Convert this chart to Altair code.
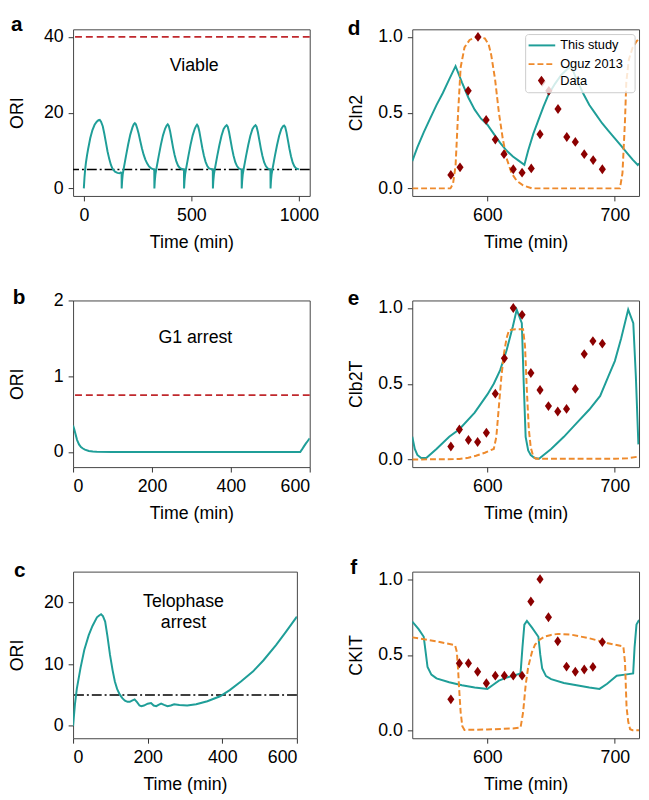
import altair as alt
import pandas as pd

FONT = "Liberation Sans"
TEAL = "#1f9e98"
ORANGE = "#ee8a2c"
RED = "#c0282d"
DARKRED = "#8b0000"
DIAMOND = "M0,-1L0.72,0L0,1L-0.72,0Z"

# ---------------- panel a (Viable) ----------------
A_T = [0, 3, 6, 10, 15, 20, 30, 40, 50, 60, 68, 74, 80, 88, 95, 103, 110, 118, 126, 134, 145, 156, 166, 172, 175.5,
       176, 178, 181, 186, 196, 206, 216, 226, 232, 237, 242, 248, 255, 262, 270, 278, 286, 294, 303, 313, 322, 327.5,
       328, 330, 333, 338, 348, 358, 368, 378, 385, 390, 395, 401, 408, 415, 422, 430, 438, 446, 456, 465.5,
       466, 468, 471, 476, 486, 496, 506, 516, 522, 526, 531, 537, 544, 551, 558, 566, 574, 582, 592, 599.5,
       600, 602, 605, 610, 620, 630, 640, 650, 658, 664, 669, 675, 682, 689, 696, 704, 712, 720, 728, 733.5,
       734, 736, 739, 744, 754, 764, 774, 784, 792, 798, 803, 809, 816, 823, 830, 838, 846, 854, 862, 867.5,
       868, 870, 873, 878, 888, 898, 908, 918, 926, 931, 936, 942, 949, 956, 963, 971, 979, 987, 1000]
A_V = [0, 2.8, 4.9, 6.9, 8.8, 10.4, 13.3, 15.4, 16.8, 17.6, 18.0, 18.1, 17.6, 16.4, 14.5, 12.0, 9.8, 7.8, 6.2, 5.1, 4.4, 4.1, 4.0, 4.2, 4.0,
       0, 2.0, 3.8, 5.4, 8.6, 11.6, 14.2, 16.1, 16.9, 17.2, 16.9, 15.9, 14.4, 12.6, 10.6, 8.9, 7.6, 6.6, 5.8, 5.3, 5.1, 5.0,
       0, 2.0, 3.8, 5.4, 8.5, 11.5, 14.0, 15.8, 16.6, 16.9, 16.5, 15.1, 12.9, 10.7, 8.8, 7.1, 6.0, 5.4, 5.1, 5.0,
       0, 2.0, 3.8, 5.4, 8.5, 11.5, 14.0, 15.8, 16.5, 16.8, 16.4, 15.0, 12.8, 10.6, 8.7, 7.0, 5.9, 5.3, 5.1, 5.0,
       0, 2.0, 3.8, 5.4, 8.5, 11.4, 13.9, 15.7, 16.4, 16.7, 16.3, 14.9, 12.7, 10.5, 8.6, 6.9, 5.9, 5.3, 5.1, 5.0,
       0, 2.0, 3.8, 5.4, 8.5, 11.4, 13.9, 15.7, 16.4, 16.7, 16.3, 14.9, 12.7, 10.5, 8.6, 6.9, 5.9, 5.3, 5.1, 5.0,
       0, 2.0, 3.8, 5.4, 8.5, 11.4, 13.9, 15.7, 16.4, 16.6, 16.2, 14.8, 12.6, 10.4, 8.5, 6.8, 5.8, 5.3, 5.0]
A_UPPER = [40]
A_LOWER = [5]

# ---------------- panel b (G1 arrest) ----------------
B_T = [0, 3, 6, 10, 15, 20, 25, 30, 40, 50, 60, 100, 200, 300, 400, 500, 576, 580, 585, 590, 595, 600]
B_V = [0.35, 0.30, 0.24, 0.16, 0.10, 0.065, 0.045, 0.03, 0.012, 0.005, 0.002, 0, 0, 0, 0, 0, 0, 0.03, 0.07, 0.11, 0.145, 0.18]
B_UPPER = [0.75]

# ---------------- panel c (Telophase arrest) ----------------
C_T = [0, 5, 10, 20, 30, 42, 52, 64, 70, 75, 80, 86, 92, 99, 106, 112, 118, 125, 132, 139,
       146, 152, 158, 165, 172, 178, 183, 190, 200, 209, 216, 223, 229, 236, 244, 253, 262, 271, 285, 306,
       330, 360, 394, 420, 450, 482, 510, 544, 570, 600]
C_V = [0, 3.5, 6.0, 9.4, 12.3, 14.7, 16.2, 17.6, 17.9, 18.1, 17.8, 16.9, 14.6, 11.5, 9.0, 7.2, 6.0, 5.1, 4.5, 4.1,
       3.9, 3.9, 4.1, 4.3, 3.8, 3.3, 3.2, 3.3, 3.6, 3.7, 3.3, 3.2, 3.4, 3.6, 3.4, 3.2, 3.3, 3.5, 3.4, 3.3,
       3.5, 4.0, 4.8, 5.8, 7.2, 8.8, 10.6, 13.1, 15.2, 17.7]
C_LOWER = [5]

# ---------------- panel d (Cln2) ----------------
D_STUDY_T = [541, 545, 550, 555, 560, 565, 570, 575, 580, 585, 590, 595, 600, 605, 610, 615, 620, 625, 629,
             632, 636, 640, 644, 648, 653, 658, 663, 666, 670, 675, 680, 685, 690, 695, 700, 705, 710, 714, 718, 719]
D_STUDY_V = [0.18, 0.27, 0.37, 0.46, 0.55, 0.63, 0.72, 0.807, 0.70, 0.60, 0.52, 0.46, 0.42, 0.36, 0.30, 0.25, 0.21, 0.18, 0.155,
             0.25, 0.36, 0.45, 0.54, 0.62, 0.69, 0.75, 0.79, 0.80, 0.72, 0.63, 0.55, 0.49, 0.43, 0.38, 0.33, 0.28, 0.23, 0.19, 0.155, 0.165]
D_OGUZ_T = [541, 571, 573, 575, 577, 579, 582, 586, 592, 598, 601, 603, 606, 609, 612, 615, 619, 623, 628, 635,
            704, 706, 708, 709, 711, 714, 717, 719]
D_OGUZ_V = [0, 0, 0.03, 0.15, 0.50, 0.80, 0.93, 0.98, 1.0, 0.99, 0.95, 0.88, 0.72, 0.50, 0.33, 0.20, 0.10, 0.05, 0.02, 0,
            0, 0.1, 0.45, 0.70, 0.85, 0.93, 0.97, 0.99]
D_DATA_T = [571.3, 578.5, 584.9, 592.6, 599, 606.2, 613, 620.3, 627.2, 634.4, 641.3, 643, 648.2, 655.4, 662.3, 669, 676, 683, 690.2]
D_DATA_V = [0.089, 0.139, 0.644, 1.0, 0.452, 0.322, 0.226, 0.126, 0.104, 0.132, 0.357, 0.704, 0.644, 0.524, 0.339, 0.307, 0.226, 0.187, 0.126]

# ---------------- panel e (Clb2T) ----------------
E_STUDY_T = [541, 543, 545, 548, 552, 560, 570, 578, 590, 600, 605, 610, 615, 620, 623, 627, 628.5, 630, 632, 634,
             637, 640.5, 650, 660, 670, 680, 688.5, 695, 700, 705, 710.5, 714.5, 716.5, 718.5]
E_STUDY_V = [0.15, 0.07, 0.03, 0.01, 0.01, 0.07, 0.15, 0.20, 0.31, 0.43, 0.50, 0.59, 0.72, 0.88, 0.99, 0.90, 0.50, 0.15, 0.06, 0.03,
             0.01, 0.005, 0.07, 0.15, 0.24, 0.33, 0.42, 0.55, 0.65, 0.80, 0.99, 0.90, 0.55, 0.10]
E_OGUZ_T = [541, 578, 585, 591, 598, 605, 607, 609, 611, 613, 615, 617, 622, 628, 629.5, 631, 632.5, 634, 636, 638, 700, 710, 719]
E_OGUZ_V = [0.0, 0.003, 0.012, 0.025, 0.045, 0.07, 0.15, 0.35, 0.55, 0.70, 0.80, 0.855, 0.86, 0.86, 0.75, 0.45, 0.20, 0.08, 0.02, 0.005, 0.005, 0.008, 0.02]
DATA_T = [571.3, 578, 585.1, 592.3, 599.2, 606.2, 613.3, 620.3, 627.2, 634.1, 641.3, 647.9, 655.2, 662.1, 669, 676, 682.8, 690.2]
E_DATA_V = [0.086, 0.198, 0.129, 0.116, 0.177, 0.435, 0.668, 1.0, 0.955, 0.571, 0.459, 0.353, 0.317, 0.334, 0.466, 0.696, 0.782, 0.765]

# ---------------- panel f (CKIT) ----------------
F_STUDY_T = [541, 546, 550, 551.5, 553, 556, 560, 570, 580, 590, 600, 604, 609, 615, 621, 626, 627.5, 629, 631, 635,
             640, 641.5, 643, 646, 650, 660, 670, 680, 688, 694, 701.5, 708, 714.4, 715.5, 717, 719]
F_STUDY_V = [0.72, 0.67, 0.62, 0.52, 0.42, 0.37, 0.345, 0.32, 0.30, 0.285, 0.276, 0.30, 0.33, 0.35, 0.365, 0.378, 0.55, 0.70, 0.725, 0.68,
             0.62, 0.50, 0.41, 0.36, 0.34, 0.315, 0.30, 0.285, 0.276, 0.31, 0.363, 0.37, 0.378, 0.55, 0.70, 0.73]
F_OGUZ_T = [541, 560, 574.6, 576, 577, 578, 579, 580.3, 582, 600, 620, 626, 628, 630, 632, 635, 637.4, 641, 645, 650,
            655.4, 665, 680, 693.8, 706.7, 708, 709.2, 710.5, 712, 714, 719]
F_OGUZ_V = [0.616, 0.59, 0.564, 0.52, 0.40, 0.25, 0.12, 0.03, 0.005, 0.008, 0.015, 0.02, 0.12, 0.30, 0.42, 0.52, 0.568, 0.60, 0.622, 0.632,
            0.639, 0.635, 0.61, 0.579, 0.556, 0.45, 0.157, 0.06, 0.01, 0.003, 0.003]
F_DATA_V = [0.207, 0.445, 0.445, 0.389, 0.313, 0.363, 0.363, 0.363, 0.363, 0.853, 1.0, 0.749, 0.59, 0.423, 0.389, 0.404, 0.421, 0.585]

LEGEND_LABELS = ["This study", "Oguz 2013", "Data"]

W1, W1C, W2, H = 240, 227, 230, 169


def X(dom, ticks):
    return alt.X("t:Q", scale=alt.Scale(domain=dom, nice=False, zero=False),
                 axis=alt.Axis(values=ticks, format="d", title="Time (min)",
                               titleY=52, titleBaseline="alphabetic"))


def Y(dom, ticks, title, fmt):
    return alt.Y("v:Q", scale=alt.Scale(domain=dom, nice=False, zero=False),
                 axis=alt.Axis(values=ticks, format=fmt, title=title,
                               titleX=-51, titleBaseline="alphabetic"))


def series(t, v):
    return pd.DataFrame({"t": t, "v": v})


def line(df, x, y, color, dash=None, width=2):
    kw = dict(color=color, strokeWidth=width, clip=True)
    if dash:
        kw["strokeDash"] = dash
    return alt.Chart(df).mark_line(**kw).encode(x=x, y=y)


def hrule(vals, x, y, color, dash, width=1.6):
    return alt.Chart(pd.DataFrame({"v": vals})).mark_rule(color=color, strokeDash=dash, strokeWidth=width).encode(y=y)


def letter(ch, dx, dy):
    return alt.Chart(pd.DataFrame({"label": [ch]})).mark_text(
        align="left", baseline="alphabetic", font=FONT, fontSize=21, fontWeight="bold", color="black"
    ).encode(x=alt.value(dx), y=alt.value(dy), text="label:N")


def note(t, v, labels, x, y):
    return alt.Chart(pd.DataFrame({"t": t, "v": v, "label": labels})).mark_text(
        font=FONT, fontSize=18, baseline="alphabetic", color="black"
    ).encode(x=x, y=y, text="label:N")


def diamonds(t, v, x, y):
    return alt.Chart(series(t, v)).mark_point(shape=DIAMOND, filled=True, size=100, opacity=1,
                                               color=DARKRED, clip=True).encode(x=x, y=y)


# ---- panel a
xa = X([-50, 1050], [0, 500, 1000])
ya = Y([-2, 42], [0, 20, 40], "ORI", "d")
pa = alt.layer(
    hrule(A_UPPER, xa, ya, RED, [7, 4]),
    hrule(A_LOWER, xa, ya, "black", [10, 3, 2, 3], 1.5),
    line(series(A_T, A_V), xa, ya, TEAL),
    note([513], [31.1], ["Viable"], xa, ya),
    letter("a", -63, 2),
).properties(width=W1, height=H)

# ---- panel b
xb = X([0, 600], [0, 200, 400, 600])
yb = Y([-0.2, 2], [0, 1, 2], "ORI", "d")
pb = alt.layer(
    hrule(B_UPPER, xb, yb, RED, [7, 4]),
    line(series(B_T, B_V), xb, yb, TEAL),
    note([310], [1.44], ["G1 arrest"], xb, yb),
    letter("b", -61.3, 3.7),
).properties(width=W1, height=H)

# ---- panel c
xc = X([0, 600], [0, 200, 400, 600])
yc = Y([-2, 25], [0, 10, 20], "ORI", "d")
pc = alt.layer(
    hrule(C_LOWER, xc, yc, "black", [10, 3, 2, 3], 1.5),
    line(series(C_T, C_V), xc, yc, TEAL),
    note([296, 296], [19.3, 15.8], ["Telophase", "arrest"], xc, yc),
    letter("c", -60, 5.3),
).properties(width=W1C, height=H)

# ---- right column
xr = X([541, 719], [600, 700])


def yr(title):
    return Y([-0.05, 1.05], [0, 0.5, 1.0], title, ".1f")


yd = yr("Cln2")
legend_layers = [
    alt.Chart(pd.DataFrame({"k": [0]})).mark_rect(fill="white", fillOpacity=0.8, stroke="#cccccc",
                                                   strokeWidth=1, cornerRadius=3).encode(
        x=alt.value(115), x2=alt.value(226), y=alt.value(5.3), y2=alt.value(64.3)),
    alt.Chart(pd.DataFrame({"k": [0]})).mark_rule(color=TEAL, strokeWidth=2).encode(
        x=alt.value(118), x2=alt.value(145), y=alt.value(16.3)),
    alt.Chart(pd.DataFrame({"k": [0]})).mark_rule(color=ORANGE, strokeWidth=2, strokeDash=[6, 3]).encode(
        x=alt.value(118), x2=alt.value(145), y=alt.value(35.3)),
    alt.Chart(pd.DataFrame({"k": [0]})).mark_point(shape=DIAMOND, filled=True, size=100, opacity=1,
                                                   color=DARKRED).encode(x=alt.value(131), y=alt.value(52)),
]
for i, lab in enumerate(LEGEND_LABELS):
    legend_layers.append(
        alt.Chart(pd.DataFrame({"label": [lab]})).mark_text(
            align="left", baseline="middle", font=FONT, fontSize=13, color="black"
        ).encode(x=alt.value(150), y=alt.value([16.3, 35.3, 52][i]), text="label:N")
    )

pd_ = alt.layer(
    line(series(D_STUDY_T, D_STUDY_V), xr, yd, TEAL),
    line(series(D_OGUZ_T, D_OGUZ_V), xr, yd, ORANGE, [6, 3]),
    diamonds(D_DATA_T, D_DATA_V, xr, yd),
    *legend_layers,
    letter("d", -65.3, 5.3),
).properties(width=W2, height=H)

ye = yr("Clb2T")
pe = alt.layer(
    line(series(E_STUDY_T, E_STUDY_V), xr, ye, TEAL),
    line(series(E_OGUZ_T, E_OGUZ_V), xr, ye, ORANGE, [6, 3]),
    diamonds(DATA_T, E_DATA_V, xr, ye),
    letter("e", -65.3, 4.7),
).properties(width=W2, height=H)

yf = yr("CKIT")
pf = alt.layer(
    line(series(F_STUDY_T, F_STUDY_V), xr, yf, TEAL),
    line(series(F_OGUZ_T, F_OGUZ_V), xr, yf, ORANGE, [6, 3]),
    diamonds(DATA_T, F_DATA_V, xr, yf),
    letter("f", -63, 2),
).properties(width=W2, height=H)

chart = alt.concat(
    pa, pd_, pb, pe, pc, pf, columns=2, bounds="flush",
    spacing={"row": 106, "column": 104},
).configure(
    font=FONT, padding={"left": 0, "top": 0, "right": 1, "bottom": 0}
).configure_view(
    stroke="#444444", strokeWidth=1
).configure_axis(
    labelFont=FONT, labelFontSize=18, labelColor="black",
    titleFont=FONT, titleFontSize=18, titleFontWeight="normal", titleColor="black",
    tickColor="#333333", tickSize=5, tickWidth=1, domain=False, grid=False,
).configure_axisX(labelPadding=6).configure_axisY(labelPadding=5)

chart.save("out.html", embed_options={"renderer": "svg", "actions": False})
